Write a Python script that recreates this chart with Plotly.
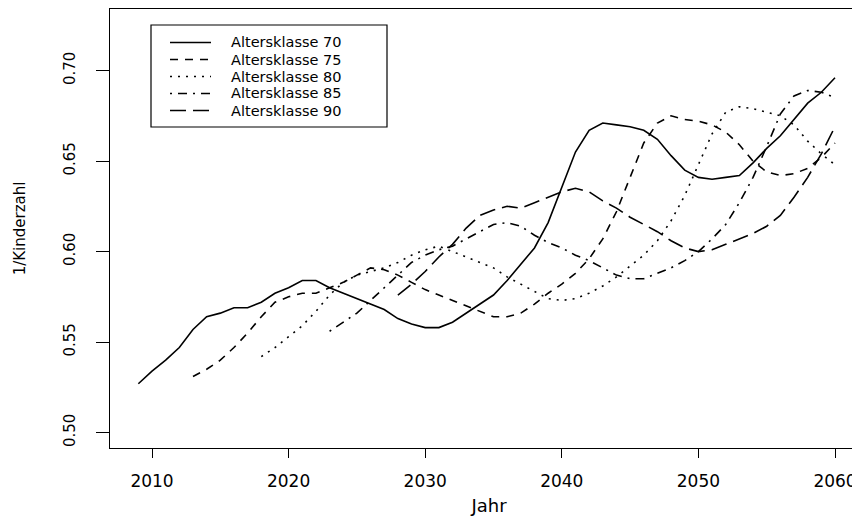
import plotly.graph_objects as go

# ---------------- data ----------------
years_70 = list(range(2009, 2061))
vals_70 = [0.527, 0.534, 0.540, 0.547, 0.557, 0.564, 0.566, 0.569, 0.569, 0.572,
           0.577, 0.580, 0.584, 0.584, 0.580, 0.577, 0.574, 0.571, 0.568, 0.563,
           0.560, 0.558, 0.558, 0.561, 0.566, 0.571, 0.576, 0.584, 0.593, 0.602,
           0.616, 0.636, 0.655, 0.667, 0.671, 0.670, 0.669, 0.667, 0.662, 0.653,
           0.645, 0.641, 0.640, 0.641, 0.642, 0.649, 0.657, 0.664, 0.673, 0.682,
           0.688, 0.696]

years_75 = list(range(2013, 2061))
vals_75 = [0.531, 0.535, 0.540, 0.547, 0.555, 0.564, 0.572, 0.575, 0.577, 0.577,
           0.580, 0.583, 0.587, 0.591, 0.590, 0.587, 0.583, 0.579, 0.576, 0.573,
           0.570, 0.567, 0.564, 0.564, 0.566, 0.571, 0.577, 0.582, 0.588, 0.596,
           0.607, 0.622, 0.641, 0.660, 0.671, 0.675, 0.673, 0.672, 0.670, 0.666,
           0.659, 0.650, 0.644, 0.642, 0.643, 0.646, 0.652, 0.660]

years_80 = list(range(2018, 2061))
vals_80 = [0.542, 0.547, 0.553, 0.559, 0.567, 0.576, 0.583, 0.587, 0.589, 0.591,
           0.594, 0.598, 0.601, 0.603, 0.600, 0.597, 0.594, 0.591, 0.586, 0.582,
           0.578, 0.574, 0.573, 0.574, 0.577, 0.581, 0.586, 0.592, 0.598, 0.606,
           0.617, 0.631, 0.648, 0.665, 0.677, 0.680, 0.679, 0.677, 0.675, 0.670,
           0.661, 0.654, 0.648]

years_85 = list(range(2023, 2061))
vals_85 = [0.556, 0.561, 0.566, 0.573, 0.580, 0.587, 0.594, 0.598, 0.601, 0.603,
           0.607, 0.611, 0.615, 0.616, 0.614, 0.609, 0.605, 0.602, 0.598, 0.595,
           0.591, 0.587, 0.585, 0.585, 0.588, 0.591, 0.595, 0.600, 0.607, 0.615,
           0.627, 0.641, 0.658, 0.676, 0.686, 0.689, 0.688, 0.685]

years_90 = list(range(2028, 2061))
vals_90 = [0.576, 0.582, 0.589, 0.597, 0.604, 0.613, 0.620, 0.623, 0.625, 0.624,
           0.627, 0.630, 0.633, 0.635, 0.633, 0.628, 0.624, 0.619, 0.615, 0.611,
           0.606, 0.602, 0.600, 0.601, 0.604, 0.607, 0.610, 0.614, 0.620, 0.630,
           0.641, 0.654, 0.669]

series_names = ["Altersklasse 70", "Altersklasse 75", "Altersklasse 80",
                "Altersklasse 85", "Altersklasse 90"]
x_ticks = [2010, 2020, 2030, 2040, 2050, 2060]
y_ticks = [0.50, 0.55, 0.60, 0.65, 0.70]
y_tick_labels = ["0.50", "0.55", "0.60", "0.65", "0.70"]
x_title = "Jahr"
y_title = "1/Kinderzahl"

# ---------------- styles ----------------
dashes = ["solid", "8px,7px", "2px,6px", "2px,6px,9px,6px", "16px,7px"]
FONT = "DejaVu Sans"
LW = 1.6

all_x = [years_70, years_75, years_80, years_85, years_90]
all_y = [vals_70, vals_75, vals_80, vals_85, vals_90]

fig = go.Figure()
for name, xs, ys, d in zip(series_names, all_x, all_y, dashes):
    fig.add_trace(go.Scatter(x=xs, y=ys, mode="lines", name=name,
                             line=dict(color="black", width=LW, dash=d),
                             showlegend=False))

# The page body has an 8px margin, so the figure is drawn shifted by 8px.
OFF = 8
FIG_W, FIG_H = 860, 518
# plot area in figure pixels (screen = figure + OFF)
L, T = 110 - OFF, 9 - OFF
R, B = FIG_W, 448 - OFF
W, H = R - L, B - T


def px(screen_x):
    return (screen_x - OFF - L) / W


def py(screen_y):
    return (B - (screen_y - OFF)) / H


# axis range so that 2010 -> 152 px and 2060 -> 835 px on screen
per_year = (835 - 152) / 50.0
x_lo = 2010 - (152 - (L + OFF)) / per_year
x_hi = 2010 + ((R + OFF) - 152) / per_year

shapes = [dict(type="rect", xref="paper", yref="paper",
               x0=px(151), x1=px(387), y0=py(127), y1=py(25),
               line=dict(color="black", width=1.2), fillcolor="white", layer="above")]
annotations = []
rows = [42.5, 59.5, 76.5, 93.5, 110.5]
for name, d, ry in zip(series_names, dashes, rows):
    shapes.append(dict(type="line", xref="paper", yref="paper",
                       x0=px(170), x1=px(211), y0=py(ry), y1=py(ry),
                       line=dict(color="black", width=LW, dash=d), layer="above"))
    annotations.append(dict(xref="paper", yref="paper", x=px(230), y=py(ry),
                            text=name, showarrow=False, xanchor="left",
                            yanchor="middle", borderpad=0,
                            font=dict(family=FONT, size=14.5, color="black")))

fig.update_layout(
    width=FIG_W, height=FIG_H,
    margin=dict(l=L, r=FIG_W - R, t=T, b=FIG_H - B, pad=0, autoexpand=False),
    paper_bgcolor="white", plot_bgcolor="white",
    shapes=shapes, annotations=annotations,
    font=dict(family=FONT, color="black"),
    xaxis=dict(range=[x_lo, x_hi], tickvals=x_ticks, automargin=False,
               ticks="outside", ticklen=9, tickwidth=1, tickcolor="black",
               ticklabelstandoff=8,
               showline=True, linecolor="black", linewidth=1.2, mirror=True,
               showgrid=False, zeroline=False,
               tickfont=dict(family=FONT, size=17, color="black"),
               title=dict(text=x_title, font=dict(family=FONT, size=18),
                          standoff=9)),
    yaxis=dict(range=[0.4915, 0.734], tickvals=y_ticks, ticktext=y_tick_labels,
               tickangle=-90, automargin=False,
               ticks="outside", ticklen=13, tickwidth=1, tickcolor="black",
               ticklabelstandoff=15,
               showline=True, linecolor="black", linewidth=1.2, mirror=False,
               showgrid=False, zeroline=False,
               tickfont=dict(family=FONT, size=15, color="black"),
               title=dict(text=y_title, font=dict(family=FONT, size=15),
                          standoff=31)),
)

fig.write_html("out.html")
